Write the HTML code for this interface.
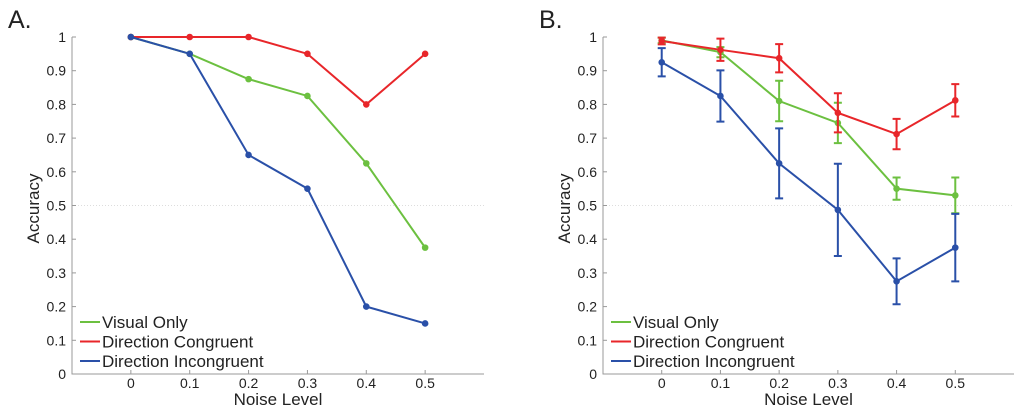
<!DOCTYPE html>
<html><head><meta charset="utf-8"><style>
body{margin:0;background:#fff;width:1024px;height:414px;overflow:hidden}
svg text{font-family:"Liberation Sans",Arial,sans-serif;fill:#222}
</style></head><body>
<svg id="fig" width="1024" height="414"></svg>
<script>
const noiseLevels=[0,0.1,0.2,0.3,0.4,0.5];
const yTicks=[0,0.1,0.2,0.3,0.4,0.5,0.6,0.7,0.8,0.9,1];
const yTickLabels=["0","0.1","0.2","0.3","0.4","0.5","0.6","0.7","0.8","0.9","1"];
const xTickLabels=["0","0.1","0.2","0.3","0.4","0.5"];
const seriesNames=["Visual Only","Direction Congruent","Direction Incongruent"];
const seriesColors=["#6cc040","#e8262a","#2a50a8"];
const aVisual=[1,0.95,0.875,0.825,0.625,0.375];
const aCongruent=[1,1,1,0.95,0.8,0.95];
const aIncongruent=[1,0.95,0.65,0.55,0.2,0.15];
const bVisual=[0.99,0.955,0.81,0.745,0.55,0.53];
const bVisualErr=[0.008,0.015,0.06,0.06,0.033,0.053];
const bCongruent=[0.988,0.962,0.937,0.775,0.712,0.812];
const bCongruentErr=[0.01,0.033,0.042,0.058,0.045,0.048];
const bIncongruent=[0.925,0.825,0.625,0.487,0.275,0.375];
const bIncongruentErr=[0.042,0.076,0.104,0.137,0.068,0.1];

const NS="http://www.w3.org/2000/svg";
const svg=document.getElementById('fig');
function mk(tag,attrs,parent){const e=document.createElementNS(NS,tag);for(const k in attrs)e.setAttribute(k,attrs[k]);(parent||svg).appendChild(e);return e;}

function panel(id,letter,left,right,series,errs){
  const g=mk('g',{});
  
  
  const top=37,bottom=374;
  const xs=v=>left+(v+0.1)/0.7*(right-left);
  const ys=v=>bottom-v*(bottom-top);
  const lab=mk('text',{x:left-64,y:28,'font-size':25},g);lab.textContent=letter+'.';
  
  
  const ref=mk('line',{x1:left,x2:right,y1:ys(0.5),y2:ys(0.5),stroke:'#ddd','stroke-width':1,'stroke-dasharray':'1,2'},g);
  
  
  const ax=mk('path',{d:`M${left},${top} V${bottom} H${right}`,fill:'none',stroke:'#999','stroke-width':1},g);
  
  
  yTicks.forEach((t,i)=>{
    mk('line',{x1:left,x2:left+4,y1:ys(t),y2:ys(t),stroke:'#999'},g);
    const tx=mk('text',{x:left-6,y:ys(t)+5,'font-size':14,'text-anchor':'end'},g);tx.textContent=yTickLabels[i];
    
    
  });
  noiseLevels.forEach((t,i)=>{
    mk('line',{x1:xs(t),x2:xs(t),y1:bottom,y2:bottom-4,stroke:'#999'},g);
    const tx=mk('text',{x:xs(t),y:bottom+14,'font-size':14,'text-anchor':'middle'},g);tx.textContent=xTickLabels[i];
    
    
  });
  const xl=mk('text',{x:(left+right)/2,y:405,'font-size':17,'text-anchor':'middle'},g);xl.textContent='Noise Level';
  
  
  const yl=mk('text',{x:0,y:0,'font-size':17,'text-anchor':'middle',transform:`translate(${left-33},${(top+bottom)/2+3}) rotate(-90)`},g);yl.textContent='Accuracy';
  
  
  series.forEach((vals,si)=>{
    const c=seriesColors[si];
    const sg=mk('g',{},g);
    
    
    if(errs){errs[si].forEach((e,i)=>{
      const x=xs(noiseLevels[i]),y1=ys(vals[i]-e),y2=ys(vals[i]+e);
      const eb=mk('path',{d:`M${x},${y1}V${y2}M${x-4},${y1}H${x+4}M${x-4},${y2}H${x+4}`,stroke:c,'stroke-width':2,fill:'none'},sg);
      
      
    });}
    const pts=vals.map((v,i)=>xs(noiseLevels[i])+','+ys(v)).join(' ');
    const pl=mk('polyline',{points:pts,fill:'none',stroke:c,'stroke-width':2},sg);
    
    
    vals.forEach((v,i)=>{
      const p=mk('circle',{cx:xs(noiseLevels[i]),cy:ys(v),r:2.8,fill:c,stroke:c},sg);
      
      
    });
  });
  const lg=mk('g',{},g);
  
  
  seriesNames.forEach((n,i)=>{
    const y=322+i*19.5;
    mk('line',{x1:left+8,x2:left+28,y1:y,y2:y,stroke:seriesColors[i],'stroke-width':2},lg);
    const t=mk('text',{x:left+30,y:y+6,'font-size':17},lg);t.textContent=n;
    
    
  });
}
panel('a','A',72,484,[aVisual,aCongruent,aIncongruent],null);
panel('b','B',603,1014,[bVisual,bCongruent,bIncongruent],[bVisualErr,bCongruentErr,bIncongruentErr]);
</script>
</body></html>
